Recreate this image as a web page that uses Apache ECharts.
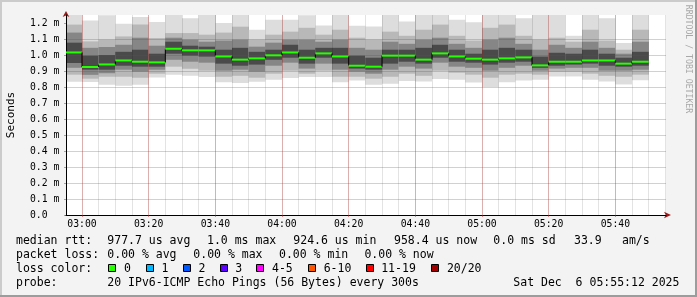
<!DOCTYPE html>
<html><head><meta charset="utf-8">
<script src="https://cdn.jsdelivr.net/npm/echarts@6/dist/echarts.min.js"></script>
<style>html,body{margin:0;padding:0;background:#f3f3f3;overflow:hidden}#c{width:697px;height:297px}</style>
</head><body><div id="c"></div>
<script>
// ---- data (values in ms) ----
const colEnd = ["03:00","03:05","03:10","03:15","03:20","03:25","03:30","03:35","03:40","03:45",
  "03:50","03:55","04:00","04:05","04:10","04:15","04:20","04:25","04:30","04:35",
  "04:40","04:45","04:50","04:55","05:00","05:05","05:10","05:15","05:20","05:25",
  "05:30","05:35","05:40","05:45","05:50"];
const medians = [1.016,0.925,0.941,0.966,0.958,0.954,1.039,1.029,1.029,0.991,0.971,0.979,0.998,1.016,0.983,1.010,0.991,0.933,0.927,0.996,0.996,0.971,1.010,0.991,0.977,0.971,0.979,0.985,0.935,0.958,0.958,0.966,0.966,0.946,0.958];
const maxs = [1.25,1.216,1.248,1.196,1.237,1.206,1.25,1.23,1.25,1.2,1.25,1.158,1.22,1.22,1.248,1.185,1.25,1.183,1.178,1.25,1.21,1.25,1.25,1.22,1.205,1.25,1.25,1.23,1.25,1.25,1.12,1.25,1.23,1.075,1.25];
const hi90 = [1.19,1.085,1.096,1.116,1.19,1.106,1.137,1.137,1.127,1.14,1.177,1.096,1.127,1.146,1.17,1.127,1.158,1.108,1.096,1.146,1.12,1.158,1.19,1.12,1.09,1.17,1.19,1.12,1.096,1.108,1.083,1.158,1.09,1.033,1.158];
const hi75 = [1.14,1.045,1.05,1.064,1.108,1.058,1.108,1.096,1.083,1.09,1.096,1.052,1.077,1.096,1.096,1.083,1.096,1.045,1.033,1.083,1.07,1.096,1.108,1.07,1.045,1.096,1.108,1.07,1.033,1.064,1.045,1.083,1.045,1.008,1.083];
const hi60 = [1.077,0.996,1.0,1.02,1.033,1.008,1.083,1.058,1.052,1.033,1.045,1.02,1.033,1.064,1.033,1.045,1.045,0.996,0.983,1.033,1.033,1.045,1.064,1.033,1.008,1.033,1.045,1.033,0.99,1.014,1.008,1.033,1.008,0.983,1.02];
const lo40 = [0.95,0.908,0.908,0.933,0.927,0.927,1.008,0.996,0.99,0.946,0.933,0.94,0.97,0.983,0.946,0.983,0.946,0.915,0.908,0.946,0.958,0.946,0.983,0.958,0.952,0.94,0.952,0.958,0.92,0.933,0.94,0.946,0.933,0.927,0.933];
const lo25 = [0.92,0.876,0.886,0.908,0.896,0.908,0.97,0.958,0.952,0.902,0.908,0.896,0.933,0.952,0.915,0.946,0.908,0.896,0.883,0.908,0.927,0.915,0.952,0.927,0.92,0.902,0.92,0.933,0.902,0.915,0.92,0.92,0.902,0.902,0.908];
const lo10 = [0.877,0.852,0.864,0.864,0.858,0.883,0.927,0.914,0.902,0.864,0.87,0.858,0.883,0.902,0.883,0.902,0.864,0.864,0.852,0.864,0.883,0.87,0.902,0.889,0.877,0.858,0.877,0.883,0.877,0.896,0.896,0.883,0.87,0.864,0.877];
const mins = [0.833,0.832,0.814,0.808,0.814,0.86,0.877,0.871,0.862,0.829,0.825,0.833,0.846,0.856,0.862,0.862,0.829,0.84,0.814,0.82,0.838,0.835,0.85,0.846,0.828,0.80,0.829,0.84,0.846,0.866,0.866,0.846,0.835,0.816,0.842];

const xTickLabels = ["03:00","03:20","03:40","04:00","04:20","04:40","05:00","05:20","05:40"];
const yTickLabels = ["0.0","0.1 m","0.2 m","0.3 m","0.4 m","0.5 m","0.6 m","0.7 m","0.8 m","0.9 m","1.0 m","1.1 m","1.2 m"];

const medianStats = ["977.7 us avg","1.0 ms max","924.6 us min","958.4 us now","0.0 ms sd","33.9","am/s"];
const lossStats = ["0.00 % avg","0.00 % max","0.00 % min","0.00 % now"];
const lossLabels = ["0","1","2","3","4-5","6-10","11-19","20/20"];
const lossColors = ["#26ff00","#00b8ff","#0059ff","#5e00ff","#ff00ff","#ff5500","#ff0000","#a00000"];
const probeText = "20 IPv6-ICMP Echo Pings (56 Bytes) every 300s";
const dateText = "Sat Dec  6 05:55:12 2025";

// ---- helpers ----
const toSec = s => { const p = s.split(':').map(Number); return p[0]*3600 + p[1]*60; };
const fmt = v => { const h = Math.floor(v/3600), m = Math.round((v%3600)/60); return String(h).padStart(2,'0')+':'+String(m).padStart(2,'0'); };
const STEP = 300;
const xStart = toSec("02:55") + 12, xEnd = xStart + 10800;
const majorVals = xTickLabels.map(toSec);
const minorVals = [];
for (let t = toSec("03:00"); t <= xEnd; t += STEP) minorVals.push(t);
const yTickVals = yTickLabels.map(s => parseFloat(s));

const smokeData = colEnd.map((e, i) => {
  const t1 = toSec(e);
  return [t1 - STEP, t1, mins[i], lo10[i], lo25[i], lo40[i], hi60[i], hi75[i], hi90[i], maxs[i]];
});
const medData = colEnd.map((e, i) => {
  const t1 = toSec(e);
  return [t1 - STEP, t1, medians[i], i > 0 ? medians[i-1] : null];
});

const MONO = "'DejaVu Sans Mono', monospace";
const PINK = 'rgba(205,35,35,0.27)';
const PINKTICK = 'rgba(205,35,35,0.5)';
const GRAYG = 'rgba(0,0,0,0.11)';
const ARROW = '#9b1c1c';

const chart = echarts.init(document.getElementById('c'), null, {renderer: 'canvas'});

const bands = [[2,9,'#dddddd'],[3,8,'#b8b8b8'],[4,7,'#868686'],[5,6,'#4a4a4a']];

function smokeItem(params, api) {
  const cs = params.coordSys;
  const t0 = api.value(0), t1 = api.value(1);
  const children = [];
  bands.forEach(b => {
    const p0 = api.coord([t0, api.value(b[1])]);
    const p1 = api.coord([t1, api.value(b[0])]);
    const r = echarts.graphic.clipRectByRect(
      {x: p0[0], y: p0[1], width: p1[0]-p0[0], height: p1[1]-p0[1]},
      {x: cs.x, y: cs.y, width: cs.width, height: cs.height});
    if (r) children.push({type: 'rect', shape: r, style: {fill: b[2]}});
  });
  return {type: 'group', children};
}

function medItem(params, api) {
  const cs = params.coordSys;
  const t0 = api.value(0), t1 = api.value(1), m = api.value(2), pm = api.value(3);
  const a = api.coord([t0, m]), b = api.coord([t1, m]);
  const x0 = Math.max(a[0], cs.x);
  const children = [];
  if (!isNaN(pm) && pm !== null) {
    const p = api.coord([t0, pm]);
    children.push({type: 'line', shape: {x1: a[0], y1: p[1], x2: a[0], y2: a[1]}, style: {stroke: '#000', lineWidth: 1}});
  }
  children.push({type: 'line', shape: {x1: x0, y1: a[1], x2: b[0], y2: b[1]}, style: {stroke: lossColors[0], lineWidth: 2}});
  return {type: 'group', children};
}

// ---- legend / decorations ----
const graphics = [];
const txt = (x, y, s, extra) => graphics.push(Object.assign({type: 'text', x, y, z: 10,
  style: {text: s, fill: '#000', font: '11.5px ' + MONO, textVerticalAlign: 'middle', textAlign: 'left'}}, extra || {}));
const rowY = [241.3, 255.5, 269.3, 283.3];
txt(16, rowY[0], 'median rtt:');
[107.3, 207, 293.3, 394, 493.3, 574, 622].forEach((x, i) => txt(x, rowY[0], medianStats[i]));
txt(16, rowY[1], 'packet loss:');
[107.3, 193.3, 279, 364.4].forEach((x, i) => txt(x, rowY[1], lossStats[i]));
txt(16, rowY[2], 'loss color:');
[108.3, 145.7, 182.7, 219.5, 256.3, 308, 365.5, 431.2].forEach((x, i) => {
  graphics.push({type: 'rect', z: 10, shape: {x: Math.round(x) + 0.5, y: 264.5, width: 7, height: 7},
    style: {fill: lossColors[i], stroke: '#000', lineWidth: 1}});
  txt(x + 15.7, rowY[2], lossLabels[i]);
});
txt(16, rowY[3], 'probe:');
txt(107.3, rowY[3], probeText);
txt(513.3, rowY[3], dateText);
graphics.push({type: 'text', x: 688.5, y: 59, rotation: -Math.PI/2, z: 10,
  style: {text: 'RRDTOOL / TOBI OETIKER', fill: '#a8a8a8', font: '8.2px ' + MONO, textAlign: 'center', textVerticalAlign: 'middle'}});
// frame
graphics.push({type: 'rect', z: 11, shape: {x: 0, y: 0, width: 697, height: 2}, style: {fill: '#cbcbcb'}});
graphics.push({type: 'rect', z: 11, shape: {x: 0, y: 0, width: 2, height: 297}, style: {fill: '#cbcbcb'}});
graphics.push({type: 'rect', z: 12, shape: {x: 0, y: 295, width: 697, height: 2}, style: {fill: '#9c9c9c'}});
graphics.push({type: 'rect', z: 12, shape: {x: 695, y: 0, width: 2, height: 297}, style: {fill: '#9c9c9c'}});

const option = {
  backgroundColor: '#f3f3f3',
  animation: false,
  grid: {left: 66, width: 600, top: 15, bottom: 82, show: true, backgroundColor: '#ffffff', borderWidth: 0,
    containLabel: false, outerBoundsMode: 'none'},
  xAxis: [
    { // main: labels, major pink grid, black line
      type: 'value', position: 'bottom', min: xStart, max: xEnd, z: 4,
      axisLine: {show: true, onZero: false, lineStyle: {color: '#000', width: 1}},
      axisTick: {show: true, length: 2, inside: false, customValues: majorVals, lineStyle: {color: PINKTICK}},
      axisLabel: {show: true, customValues: majorVals, formatter: v => fmt(v), margin: 4,
        fontFamily: MONO, fontSize: 9.75, color: '#000'},
      splitLine: {show: true, customValues: majorVals, lineStyle: {color: PINK, type: 'solid', width: 1}}
    },
    { // minor grid + arrow
      type: 'value', position: 'bottom', offset: 0, min: xStart, max: xEnd, z: 3,
      axisLine: {show: true, onZero: false, lineStyle: {color: ARROW, width: 1},
        symbol: ['none', 'arrow'], symbolSize: [5, 7], symbolOffset: [0, 5]},
      axisTick: {show: false, customValues: minorVals},
      axisLabel: {show: false, customValues: minorVals},
      splitLine: {show: true, customValues: minorVals, lineStyle: {color: GRAYG, type: 'solid', width: 1}}
    }
  ],
  yAxis: [
    {
      type: 'value', position: 'left', min: 0, max: 1.25, z: 4,
      axisLine: {show: true, onZero: false, lineStyle: {color: '#000', width: 1}},
      axisTick: {show: true, length: 2, customValues: yTickVals, lineStyle: {color: PINKTICK}},
      axisLabel: {show: true, customValues: yTickVals, align: 'left', margin: 36,
        formatter: v => yTickLabels[Math.round(v * 10)], fontFamily: MONO, fontSize: 9.75, color: '#000'},
      splitLine: {show: true, customValues: yTickVals, showMaxLine: false, lineStyle: {color: PINK, type: 'solid', width: 1}},
      name: 'Seconds', nameLocation: 'middle', nameRotate: 90, nameGap: 49,
      nameTextStyle: {fontFamily: MONO, fontSize: 11, color: '#000'}
    },
    {
      type: 'value', position: 'left', offset: 0, min: 0, max: 1.25, z: 3,
      axisLine: {show: true, onZero: false, lineStyle: {color: ARROW, width: 1},
        symbol: ['none', 'arrow'], symbolSize: [5, 6], symbolOffset: [0, 4]},
      axisTick: {show: false}, axisLabel: {show: false}, splitLine: {show: false}
    }
  ],
  series: [
    {type: 'custom', name: 'smoke', xAxisIndex: 0, yAxisIndex: 0, z: 1, silent: true,
      renderItem: smokeItem, data: smokeData, encode: {x: [0, 1], y: [2, 9]}},
    {type: 'custom', name: 'median', xAxisIndex: 0, yAxisIndex: 0, z: 5, silent: true,
      renderItem: medItem, data: medData, encode: {x: [0, 1], y: 2}}
  ],
  graphic: graphics
};
chart.setOption(option);
</script></body></html>
